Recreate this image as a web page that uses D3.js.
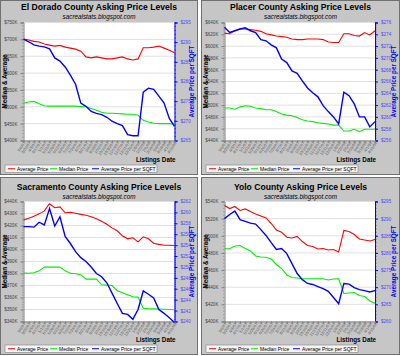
<!DOCTYPE html>
<html><head><meta charset="utf-8">
<script src="https://cdn.jsdelivr.net/npm/d3@7"></script>
<style>
html,body{margin:0;padding:0;background:#fff;}
svg{display:block;font-family:"Liberation Sans",Arial,sans-serif;}
</style></head>
<body><svg id="c" width="400" height="356"></svg>
<script>
// ---------- DATA ----------
const dates = ["3/6/07","3/20/07","4/3/07","4/17/07","5/1/07","5/15/07","5/29/07","6/12/07","6/26/07","7/10/07",
"7/24/07","8/7/07","8/21/07","9/4/07","9/18/07","10/2/07","10/16/07","10/30/07","11/13/07","11/27/07",
"12/11/07","12/25/07","1/8/08","1/22/08","2/5/08","2/19/08","3/4/08","3/18/08","4/1/08","4/15/08"];

const titles = ["El Dorado County Asking Price Levels","Placer County Asking Price Levels",
                "Sacramento County Asking Price Levels","Yolo County Asking Price Levels"];
const seriesNames = ["Average Price","Median Price","Average Price per SQFT"];

// El Dorado
const elDoradoAvg = [701,698,694,692,686,683,680,682,677,674,671,665,648,645,648,645,642,642,645,648,642,639,642,675,675,677,680,674,668,660];
const elDoradoMedian = [511,514,516,509,503,502,502,502,502,502,502,501,500,495,490,484,481,481,480,479,478,478,475,460,455,451,450,450,450,448];
const elDoradoSqft = [290.8,290.1,289.3,289.0,288.8,288.3,286.0,285.2,283.7,281.6,279.3,274.5,273.7,272.4,271.9,271.6,270.9,269.9,269.3,268.8,266.5,266.2,266.2,277.3,278.3,278.0,276.3,274.5,270.6,268.6];
const elDoradoLeftTicks = [750,700,650,600,550,500,450,400];
const elDoradoRightTicks = [295,290,285,280,275,270,265];

// Placer
const placerAvg = [622,621,626,629,629,628,627,625,621,619,617,616,615,612,611,611,612,612,612,611,607,606,606,621,621,618,617,623,619,626];
const placerMedian = [495,495,493,497,499,498,495,494,492,492,489,485,483,482,479,475,473,472,470,469,468,466,466,456,456,459,455,459,459,459];
const placerSqft = [275.2,274.3,274.6,274.9,275.1,274.6,274.3,273.1,272.9,272.2,271.7,269.8,269.2,267.8,267.4,266.1,264.9,264.1,263.4,261.9,260.9,260.0,258.8,264.2,263.6,262.2,260.0,260.0,258.3,259.2];
const placerLeftTicks = [640,620,600,580,560,540,520,500,480,460,440];
const placerRightTicks = [276,274,272,270,268,266,264,262,260,258,256];

// Sacramento
const sacAvg = [424.7,426,427.7,429.7,432.2,438.1,434.8,435.5,430.6,431,430.2,429.3,428.5,427.3,425.6,423.5,421,418,415.6,411.4,408.9,409.8,406.4,410.6,408.9,405.2,404.3,403.5,403.5,403.3];
const sacMedian = [380.3,380.2,380.6,382.2,385.3,385.3,385.3,385.3,382.2,380.2,379.8,379,375.3,375.3,375.3,370.6,370.3,370,365.7,363.9,362.2,360.6,360.3,351,350.6,350.5,350.4,350.2,350,349.8];
const sacSqft = [257.4,257.4,257.3,258.2,257.7,260.7,257.5,259.2,255.6,254.3,252.8,251.7,251.0,250.0,248.8,248.2,247.1,245.2,243.3,241.5,241.3,240.4,242.2,245.6,245.0,244.3,242.2,241.5,240.7,239.8];
const sacLeftTicks = [440,430,420,410,400,390,380,370,360,350,340];
const sacRightTicks = [262,260,258,256,254,252,250,248,246,244,242,240];

// Yolo
const yoloAvg = [535.3,531.8,534.2,529.5,531.3,528.3,525.4,523.1,520.8,514.3,506.8,504.2,498.3,497.4,499.2,493.3,488.7,487.5,484.6,485.2,483.4,484,481.1,506.2,505,501.5,496.3,495.1,493.9,495.7];
const yoloMedian = [484.8,484.8,488.1,488.7,485.2,482.3,476.4,475.3,475,472.9,466.5,461.8,454.3,451.3,450.7,449.8,449.8,449.8,449.8,449.8,448.4,449.6,449.8,432.7,433.3,433.8,430.3,429.2,424,421.3];
const yoloSqft = [290,291.2,292.2,289.7,289.2,288.7,288.4,286.8,285.1,283.0,281.0,281.3,279.8,276.9,274.0,272.2,271.1,270.8,270.2,269.6,268.8,267.0,265.2,271.1,270.9,269.9,269.3,269.0,268.6,269.0];
const yoloLeftTicks = [540,520,500,480,460,440,420,400];
const yoloRightTicks = [295,290,285,280,275,270,265,260];

// ---------- LAYOUT ----------
const panels = [
  {title:titles[0], avg:elDoradoAvg, med:elDoradoMedian, sqft:elDoradoSqft, lt:elDoradoLeftTicks, rt:elDoradoRightTicks, col:0, row:0},
  {title:titles[1], avg:placerAvg, med:placerMedian, sqft:placerSqft, lt:placerLeftTicks, rt:placerRightTicks, col:1, row:0},
  {title:titles[2], avg:sacAvg, med:sacMedian, sqft:sacSqft, lt:sacLeftTicks, rt:sacRightTicks, col:0, row:1},
  {title:titles[3], avg:yoloAvg, med:yoloMedian, sqft:yoloSqft, lt:yoloLeftTicks, rt:yoloRightTicks, col:1, row:1}
];
const cols = [{x0:0.5, w:197, pl:23.5, pr:174.5}, {x0:201.5, w:198, pl:224.5, pr:375}];
const rows = [{y0:0.5, h:174, title:10, sub:18.5, pt:22.5, pb:140.5, lab:161.5, leg:165},
              {y0:177.5, h:177, title:189.5, sub:198.5, pt:201.5, pb:321.5, lab:341.5, leg:345}];
const colors = ["#ff0000","#00ee00","#0000ff"];

const svg = d3.select("#c");

panels.forEach(p => {
  const C = cols[p.col], R = rows[p.row];
  const g = svg.append("g");
  g.append("rect").attr("x",C.x0).attr("y",R.y0).attr("width",C.w).attr("height",R.h)
    .attr("fill","#c6c6c6").attr("stroke","#707070").attr("stroke-width",1);
  const cx = C.x0 + C.w/2;
  g.append("text").attr("x",cx).attr("y",R.title).attr("text-anchor","middle")
    .attr("font-size",8.6).attr("font-weight","bold").attr("fill","#000").text(p.title);
  g.append("text").attr("x",cx).attr("y",R.sub).attr("text-anchor","middle")
    .attr("font-size",6.3).attr("font-style","italic").attr("fill","#000").text("sacrealstats.blogspot.com");

  g.append("rect").attr("x",C.pl).attr("y",R.pt).attr("width",C.pr-C.pl).attr("height",R.pb-R.pt).attr("fill","#fff");

  const x = d3.scalePoint().domain(dates).range([C.pl, C.pr]);
  const yl = d3.scaleLinear().domain([d3.min(p.lt), d3.max(p.lt)]).range([R.pb, R.pt]);
  const yr = d3.scaleLinear().domain([d3.min(p.rt), d3.max(p.rt)]).range([R.pb, R.pt]);

  // gridlines
  g.append("g").selectAll("line").data(p.lt).join("line")
    .attr("x1",C.pl).attr("x2",C.pr).attr("y1",d=>yl(d)).attr("y2",d=>yl(d))
    .attr("stroke","#e0e0e0").attr("stroke-width",1);

  // left axis
  const la = g.append("g").attr("transform",`translate(${C.pl},0)`)
    .call(d3.axisLeft(yl).tickValues(p.lt).tickFormat(d=>"$"+d+"K").tickSize(3));
  la.select(".domain").attr("stroke","#808080");
  la.selectAll(".tick line").attr("stroke","#808080");
  la.selectAll("text").attr("font-size",4.6).attr("fill","#444").attr("font-family","Liberation Sans,Arial,sans-serif");
  const step = (p.lt[0]-p.lt[1])/5;
  const minorL = d3.range(d3.min(p.lt), d3.max(p.lt)+0.001, step);
  g.append("g").selectAll("line").data(minorL).join("line")
    .attr("x1",C.pl-1.5).attr("x2",C.pl).attr("y1",d=>yl(d)).attr("y2",d=>yl(d)).attr("stroke","#808080").attr("stroke-width",0.6);

  // right axis
  const ra = g.append("g").attr("transform",`translate(${C.pr},0)`)
    .call(d3.axisRight(yr).tickValues(p.rt).tickFormat(d=>"$"+d).tickSize(3));
  ra.select(".domain").attr("stroke","#0000ff");
  ra.selectAll(".tick line").attr("stroke","#0000ff");
  ra.selectAll("text").attr("font-size",4.6).attr("fill","#4848ff").attr("font-family","Liberation Sans,Arial,sans-serif");
  const stepR = (p.rt[0]-p.rt[1])/5;
  const minorR = d3.range(d3.min(p.rt), d3.max(p.rt)+0.001, stepR);
  g.append("g").selectAll("line").data(minorR).join("line")
    .attr("x1",C.pr).attr("x2",C.pr+1.5).attr("y1",d=>yr(d)).attr("y2",d=>yr(d)).attr("stroke","#0000ff").attr("stroke-width",0.6);

  // bottom axis
  const ba = g.append("g").attr("transform",`translate(0,${R.pb})`)
    .call(d3.axisBottom(x).tickSize(2));
  ba.select(".domain").attr("stroke","#808080");
  ba.selectAll(".tick line").attr("stroke","#808080");
  ba.selectAll("text").attr("font-size",4).attr("fill","#555").attr("font-family","Liberation Sans,Arial,sans-serif")
    .attr("text-anchor","end").attr("dy",0).attr("y",3)
    .attr("transform","rotate(-55)").attr("dx",-1);

  // axis titles
  const ym = (R.pt+R.pb)/2;
  g.append("text").attr("transform",`translate(${C.x0+6},${ym}) rotate(-90)`).attr("text-anchor","middle")
    .attr("font-size",6.3).attr("font-weight","bold").attr("fill","#000").text("Median & Average");
  g.append("text").attr("transform",`translate(${C.x0+C.w-4},${ym}) rotate(-90)`).attr("text-anchor","middle")
    .attr("font-size",6.3).attr("font-weight","bold").attr("fill","#0000ff").text("Average Price per SQFT");
  g.append("text").attr("x",C.pr+1).attr("y",R.lab).attr("text-anchor","end")
    .attr("font-size",6.3).attr("font-weight","bold").attr("fill","#000").text("Listings Date");

  // lines
  const lineL = d3.line().x((d,i)=>x(dates[i])).y(d=>yl(d));
  const lineR = d3.line().x((d,i)=>x(dates[i])).y(d=>yr(d));
  g.append("path").attr("d",lineL(p.avg)).attr("fill","none").attr("stroke",colors[0]).attr("stroke-width",1.1);
  g.append("path").attr("d",lineL(p.med)).attr("fill","none").attr("stroke",colors[1]).attr("stroke-width",1.1);
  g.append("path").attr("d",lineR(p.sqft)).attr("fill","none").attr("stroke",colors[2]).attr("stroke-width",1.4);

  // legend
  const lx = C.pl-18.5, ly = R.leg;
  g.append("rect").attr("x",lx).attr("y",ly).attr("width",152).attr("height",7.5)
    .attr("fill","#f4f4f4").attr("stroke","#808080").attr("stroke-width",0.6);
  const offs = [[3,12],[45,54],[87,96]];
  seriesNames.forEach((s,i)=>{
    g.append("line").attr("x1",lx+offs[i][0]).attr("x2",lx+offs[i][0]+7).attr("y1",ly+3.75).attr("y2",ly+3.75)
      .attr("stroke",colors[i]).attr("stroke-width",1);
    g.append("text").attr("x",lx+offs[i][1]).attr("y",ly+5.6).attr("font-size",5).attr("fill","#000").text(s);
  });
});
</script></body></html>
